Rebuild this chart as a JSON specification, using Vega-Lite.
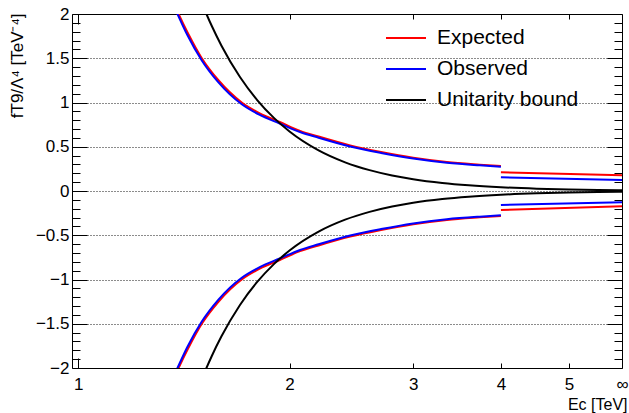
{
  "$schema": "https://vega.github.io/schema/vega-lite/v6.json",
  "width": 550,
  "height": 354,
  "autosize": {"type": "none"},
  "padding": {"left": 72, "top": 14, "right": 7, "bottom": 45},
  "background": "white",
  "config": {
    "view": {"stroke": null},
    "font": "Liberation Sans",
    "axis": {
      "labelFont": "Liberation Sans",
      "labelFontSize": 17,
      "labelColor": "#000000",
      "titleFont": "Liberation Sans",
      "titleFontSize": 17,
      "titleFontWeight": "normal",
      "titleColor": "#000000",
      "domainColor": "#000000",
      "domainWidth": 1,
      "tickColor": "#000000",
      "tickWidth": 1,
      "labelFlush": false,
      "labelOverlap": false
    }
  },
  "data": {
    "values": [
      {"x": 1.37, "y": 2.11, "series": "Expected", "seg": "e_u"},
      {"x": 1.39, "y": 2.0, "series": "Expected", "seg": "e_u"},
      {"x": 1.434, "y": 1.78, "series": "Expected", "seg": "e_u"},
      {"x": 1.5, "y": 1.5, "series": "Expected", "seg": "e_u"},
      {"x": 1.583, "y": 1.254, "series": "Expected", "seg": "e_u"},
      {"x": 1.71, "y": 1.0, "series": "Expected", "seg": "e_u"},
      {"x": 1.814, "y": 0.878, "series": "Expected", "seg": "e_u"},
      {"x": 1.937, "y": 0.78, "series": "Expected", "seg": "e_u"},
      {"x": 2.07, "y": 0.68, "series": "Expected", "seg": "e_u"},
      {"x": 2.2, "y": 0.615, "series": "Expected", "seg": "e_u"},
      {"x": 2.44, "y": 0.515, "series": "Expected", "seg": "e_u"},
      {"x": 2.7, "y": 0.44, "series": "Expected", "seg": "e_u"},
      {"x": 3.0, "y": 0.375, "series": "Expected", "seg": "e_u"},
      {"x": 3.35, "y": 0.327, "series": "Expected", "seg": "e_u"},
      {"x": 3.73, "y": 0.298, "series": "Expected", "seg": "e_u"},
      {"x": 4.0, "y": 0.282, "series": "Expected", "seg": "e_u"},
      {"x": 4.0, "y": 0.211, "series": "Expected", "seg": "e_ur"},
      {"x": 5.95, "y": 0.177, "series": "Expected", "seg": "e_ur"},
      {"x": 1.37, "y": -2.11, "series": "Expected", "seg": "e_l"},
      {"x": 1.39, "y": -2.0, "series": "Expected", "seg": "e_l"},
      {"x": 1.434, "y": -1.78, "series": "Expected", "seg": "e_l"},
      {"x": 1.5, "y": -1.5, "series": "Expected", "seg": "e_l"},
      {"x": 1.583, "y": -1.254, "series": "Expected", "seg": "e_l"},
      {"x": 1.71, "y": -1.0, "series": "Expected", "seg": "e_l"},
      {"x": 1.814, "y": -0.878, "series": "Expected", "seg": "e_l"},
      {"x": 1.937, "y": -0.78, "series": "Expected", "seg": "e_l"},
      {"x": 2.07, "y": -0.68, "series": "Expected", "seg": "e_l"},
      {"x": 2.2, "y": -0.615, "series": "Expected", "seg": "e_l"},
      {"x": 2.44, "y": -0.515, "series": "Expected", "seg": "e_l"},
      {"x": 2.7, "y": -0.44, "series": "Expected", "seg": "e_l"},
      {"x": 3.0, "y": -0.375, "series": "Expected", "seg": "e_l"},
      {"x": 3.35, "y": -0.327, "series": "Expected", "seg": "e_l"},
      {"x": 3.73, "y": -0.298, "series": "Expected", "seg": "e_l"},
      {"x": 4.0, "y": -0.282, "series": "Expected", "seg": "e_l"},
      {"x": 4.0, "y": -0.215, "series": "Expected", "seg": "e_lr"},
      {"x": 5.95, "y": -0.173, "series": "Expected", "seg": "e_lr"},
      {"x": 1.365, "y": 2.11, "series": "Observed", "seg": "o_u"},
      {"x": 1.385, "y": 2.0, "series": "Observed", "seg": "o_u"},
      {"x": 1.43, "y": 1.765, "series": "Observed", "seg": "o_u"},
      {"x": 1.5, "y": 1.475, "series": "Observed", "seg": "o_u"},
      {"x": 1.583, "y": 1.23, "series": "Observed", "seg": "o_u"},
      {"x": 1.71, "y": 0.98, "series": "Observed", "seg": "o_u"},
      {"x": 1.814, "y": 0.86, "series": "Observed", "seg": "o_u"},
      {"x": 1.937, "y": 0.763, "series": "Observed", "seg": "o_u"},
      {"x": 2.07, "y": 0.666, "series": "Observed", "seg": "o_u"},
      {"x": 2.2, "y": 0.602, "series": "Observed", "seg": "o_u"},
      {"x": 2.44, "y": 0.503, "series": "Observed", "seg": "o_u"},
      {"x": 2.7, "y": 0.43, "series": "Observed", "seg": "o_u"},
      {"x": 3.0, "y": 0.366, "series": "Observed", "seg": "o_u"},
      {"x": 3.35, "y": 0.319, "series": "Observed", "seg": "o_u"},
      {"x": 3.73, "y": 0.29, "series": "Observed", "seg": "o_u"},
      {"x": 4.0, "y": 0.275, "series": "Observed", "seg": "o_u"},
      {"x": 4.0, "y": 0.155, "series": "Observed", "seg": "o_ur"},
      {"x": 5.95, "y": 0.124, "series": "Observed", "seg": "o_ur"},
      {"x": 1.365, "y": -2.11, "series": "Observed", "seg": "o_l"},
      {"x": 1.385, "y": -2.0, "series": "Observed", "seg": "o_l"},
      {"x": 1.43, "y": -1.765, "series": "Observed", "seg": "o_l"},
      {"x": 1.5, "y": -1.475, "series": "Observed", "seg": "o_l"},
      {"x": 1.583, "y": -1.23, "series": "Observed", "seg": "o_l"},
      {"x": 1.71, "y": -0.98, "series": "Observed", "seg": "o_l"},
      {"x": 1.814, "y": -0.86, "series": "Observed", "seg": "o_l"},
      {"x": 1.937, "y": -0.763, "series": "Observed", "seg": "o_l"},
      {"x": 2.07, "y": -0.666, "series": "Observed", "seg": "o_l"},
      {"x": 2.2, "y": -0.602, "series": "Observed", "seg": "o_l"},
      {"x": 2.44, "y": -0.503, "series": "Observed", "seg": "o_l"},
      {"x": 2.7, "y": -0.43, "series": "Observed", "seg": "o_l"},
      {"x": 3.0, "y": -0.366, "series": "Observed", "seg": "o_l"},
      {"x": 3.35, "y": -0.319, "series": "Observed", "seg": "o_l"},
      {"x": 3.73, "y": -0.29, "series": "Observed", "seg": "o_l"},
      {"x": 4.0, "y": -0.275, "series": "Observed", "seg": "o_l"},
      {"x": 4.0, "y": -0.158, "series": "Observed", "seg": "o_lr"},
      {"x": 5.95, "y": -0.128, "series": "Observed", "seg": "o_lr"},
      {"x": 1.5, "y": 2.125, "series": "Unitarity bound", "seg": "u_u"},
      {"x": 1.523, "y": 2.0, "series": "Unitarity bound", "seg": "u_u"},
      {"x": 1.55, "y": 1.864, "series": "Unitarity bound", "seg": "u_u"},
      {"x": 1.6, "y": 1.642, "series": "Unitarity bound", "seg": "u_u"},
      {"x": 1.7, "y": 1.288, "series": "Unitarity bound", "seg": "u_u"},
      {"x": 1.8, "y": 1.025, "series": "Unitarity bound", "seg": "u_u"},
      {"x": 1.9, "y": 0.826, "series": "Unitarity bound", "seg": "u_u"},
      {"x": 2.0, "y": 0.6725, "series": "Unitarity bound", "seg": "u_u"},
      {"x": 2.2, "y": 0.459, "series": "Unitarity bound", "seg": "u_u"},
      {"x": 2.4, "y": 0.324, "series": "Unitarity bound", "seg": "u_u"},
      {"x": 2.6, "y": 0.2355, "series": "Unitarity bound", "seg": "u_u"},
      {"x": 2.8, "y": 0.175, "series": "Unitarity bound", "seg": "u_u"},
      {"x": 3.0, "y": 0.1328, "series": "Unitarity bound", "seg": "u_u"},
      {"x": 3.3, "y": 0.0907, "series": "Unitarity bound", "seg": "u_u"},
      {"x": 3.6, "y": 0.0641, "series": "Unitarity bound", "seg": "u_u"},
      {"x": 4.0, "y": 0.042, "series": "Unitarity bound", "seg": "u_u"},
      {"x": 4.5, "y": 0.0262, "series": "Unitarity bound", "seg": "u_u"},
      {"x": 5.0, "y": 0.0172, "series": "Unitarity bound", "seg": "u_u"},
      {"x": 5.5, "y": 0.0118, "series": "Unitarity bound", "seg": "u_u"},
      {"x": 5.95, "y": 0.0086, "series": "Unitarity bound", "seg": "u_u"},
      {"x": 1.5, "y": -2.125, "series": "Unitarity bound", "seg": "u_l"},
      {"x": 1.523, "y": -2.0, "series": "Unitarity bound", "seg": "u_l"},
      {"x": 1.55, "y": -1.864, "series": "Unitarity bound", "seg": "u_l"},
      {"x": 1.6, "y": -1.642, "series": "Unitarity bound", "seg": "u_l"},
      {"x": 1.7, "y": -1.288, "series": "Unitarity bound", "seg": "u_l"},
      {"x": 1.8, "y": -1.025, "series": "Unitarity bound", "seg": "u_l"},
      {"x": 1.9, "y": -0.826, "series": "Unitarity bound", "seg": "u_l"},
      {"x": 2.0, "y": -0.6725, "series": "Unitarity bound", "seg": "u_l"},
      {"x": 2.2, "y": -0.459, "series": "Unitarity bound", "seg": "u_l"},
      {"x": 2.4, "y": -0.324, "series": "Unitarity bound", "seg": "u_l"},
      {"x": 2.6, "y": -0.2355, "series": "Unitarity bound", "seg": "u_l"},
      {"x": 2.8, "y": -0.175, "series": "Unitarity bound", "seg": "u_l"},
      {"x": 3.0, "y": -0.1328, "series": "Unitarity bound", "seg": "u_l"},
      {"x": 3.3, "y": -0.0907, "series": "Unitarity bound", "seg": "u_l"},
      {"x": 3.6, "y": -0.0641, "series": "Unitarity bound", "seg": "u_l"},
      {"x": 4.0, "y": -0.042, "series": "Unitarity bound", "seg": "u_l"},
      {"x": 4.5, "y": -0.0262, "series": "Unitarity bound", "seg": "u_l"},
      {"x": 5.0, "y": -0.0172, "series": "Unitarity bound", "seg": "u_l"},
      {"x": 5.5, "y": -0.0118, "series": "Unitarity bound", "seg": "u_l"},
      {"x": 5.95, "y": -0.0086, "series": "Unitarity bound", "seg": "u_l"}
    ]
  },
  "layer": [
    {
      "mark": {"type": "line", "strokeWidth": 2, "clip": true, "interpolate": "monotone"},
      "encoding": {
        "x": {
          "field": "x", "type": "quantitative",
          "scale": {"type": "log", "domain": [0.98, 5.95], "nice": false},
          "axis": {
            "orient": "bottom", "values": [1, 2, 3, 4, 5, 5.95],
            "labelExpr": "datum.value > 5.9 ? '∞' : format(datum.value, 'd')",
            "ticks": false, "grid": false, "domain": true,
            "labelPadding": 8, "labelBound": false,
            "title": "Ec [TeV]", "titleAnchor": "end", "titleAlign": "right",
            "titleX": 555, "titleY": 41, "titleBaseline": "alphabetic", "titleFontSize": 16
          }
        },
        "y": {
          "field": "y", "type": "quantitative",
          "scale": {"domain": [-2, 2], "nice": false, "zero": false},
          "axis": {
            "orient": "left", "values": [-2, -1.5, -1, -0.5, 0, 0.5, 1, 1.5, 2],
            "format": ".1~f", "ticks": false, "grid": true,
            "gridDash": [1, 2], "gridColor": "#000000", "gridOpacity": 0.9,
            "labelPadding": 3, "domain": true,
            "title": "fT9/Λ⁴ [TeV⁻⁴]", "titleAngle": -90, "titleAnchor": "end",
            "titleAlign": "right", "titleBaseline": "middle",
            "titleX": -55, "titleY": -1
          }
        },
        "color": {
          "field": "series", "type": "nominal",
          "scale": {"domain": ["Expected", "Observed", "Unitarity bound"], "range": ["#ff0000", "#0000ff", "#000000"]},
          "legend": {
            "orient": "none", "legendX": 313, "legendY": 3, "title": null,
            "symbolType": "stroke", "symbolSize": 1600, "symbolStrokeWidth": 2,
            "labelFont": "Liberation Sans", "labelFontSize": 21, "labelColor": "#000000",
            "rowPadding": -16, "labelOffset": 10, "padding": 0
          }
        },
        "detail": {"field": "seg"}
      }
    },
    {
      "mark": {"type": "point", "opacity": 0},
      "encoding": {
        "x": {"field": "x", "type": "quantitative", "axis": {"orient": "bottom", "values": [1], "labels": false, "ticks": true, "tickSize": -10, "domain": false, "grid": false, "title": null}},
        "y": {"field": "y", "type": "quantitative", "axis": {"orient": "left", "values": [-1.5, -1, -0.5, 0, 0.5, 1, 1.5], "labels": false, "ticks": true, "tickSize": -15, "domain": false, "grid": false, "title": null}}
      }
    },
    {
      "mark": {"type": "point", "opacity": 0},
      "encoding": {
        "x": {"field": "x", "type": "quantitative", "axis": {"orient": "bottom", "values": [2, 3, 4, 5], "labels": false, "ticks": true, "tickSize": -5, "domain": false, "grid": false, "title": null}},
        "y": {"field": "y", "type": "quantitative", "axis": {"orient": "left", "values": [-1.9, -1.8, -1.7, -1.6, -1.4, -1.3, -1.2, -1.1, -0.9, -0.8, -0.7, -0.6, -0.4, -0.3, -0.2, -0.1, 0.1, 0.2, 0.3, 0.4, 0.6, 0.7, 0.8, 0.9, 1.1, 1.2, 1.3, 1.4, 1.6, 1.7, 1.8, 1.9], "labels": false, "ticks": true, "tickSize": -8, "domain": false, "grid": false, "title": null}}
      }
    },
    {
      "mark": {"type": "point", "opacity": 0},
      "encoding": {
        "x": {"field": "x", "type": "quantitative", "axis": {"orient": "top", "values": [1], "labels": false, "ticks": true, "tickSize": -10, "domain": true, "grid": false, "title": null}},
        "y": {"field": "y", "type": "quantitative", "axis": {"orient": "right", "values": [-1.5, -1, -0.5, 0, 0.5, 1, 1.5], "labels": false, "ticks": true, "tickSize": -15, "domain": true, "grid": false, "title": null}}
      }
    },
    {
      "mark": {"type": "point", "opacity": 0},
      "encoding": {
        "x": {"field": "x", "type": "quantitative", "axis": {"orient": "top", "values": [2, 3, 4, 5], "labels": false, "ticks": true, "tickSize": -5, "domain": false, "grid": false, "title": null}},
        "y": {"field": "y", "type": "quantitative", "axis": {"orient": "right", "values": [-1.9, -1.8, -1.7, -1.6, -1.4, -1.3, -1.2, -1.1, -0.9, -0.8, -0.7, -0.6, -0.4, -0.3, -0.2, -0.1, 0.1, 0.2, 0.3, 0.4, 0.6, 0.7, 0.8, 0.9, 1.1, 1.2, 1.3, 1.4, 1.6, 1.7, 1.8, 1.9], "labels": false, "ticks": true, "tickSize": -8, "domain": false, "grid": false, "title": null}}
      }
    }
  ],
  "resolve": {"axis": {"x": "independent", "y": "independent"}}
}
